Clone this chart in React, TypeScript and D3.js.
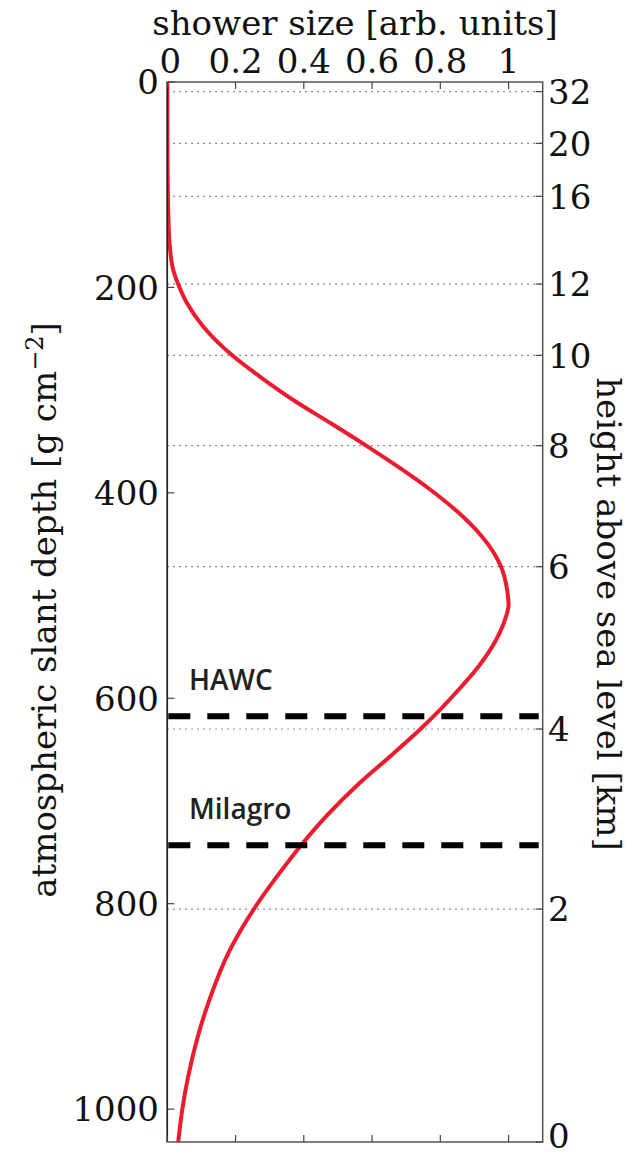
import React from "react";
import * as d3 from "d3";

// ---- data ----
const depthPts = [0, 66, 115, 154, 183, 197, 215, 238, 266, 287, 313, 332, 353, 375, 397, 418, 441, 459, 472, 495, 509, 523, 544, 569, 590, 615, 629, 654, 682, 714, 743, 771, 803, 846, 892, 931, 970, 1000, 1032];
const sizePts = [0, 0.0005, 0.002, 0.006, 0.0175, 0.032, 0.057, 0.105, 0.19, 0.272, 0.385, 0.478, 0.578, 0.678, 0.771, 0.849, 0.918, 0.958, 0.978, 0.996, 1.0, 0.99, 0.962, 0.912, 0.858, 0.788, 0.745, 0.662, 0.565, 0.468, 0.392, 0.327, 0.258, 0.182, 0.125, 0.088, 0.06, 0.044, 0.032];
const sizeTicks = [0, 0.2, 0.4, 0.6, 0.8, 1];
const sizeTickLabels = ["0", "0.2", "0.4", "0.6", "0.8", "1"];
const depthTicks = [0, 200, 400, 600, 800, 1000];
const heightTickLabels = ["32", "20", "16", "12", "10", "8", "6", "4", "2", "0"];
const heightTickDepths = [9.4, 59.7, 111.3, 196.7, 266.1, 354.1, 471.9, 629.9, 805.2, 1032];
const detectorNames = ["HAWC", "Milagro"];
const detectorDepths = [617.5, 743.2];

const W = 632, H = 1156;
const L = 167.3, R = 542.7, T = 82, B = 1142;
const serif = "DejaVu Serif";
const FS = 34;

export default function App() {
  const x = d3.scaleLinear().domain([0, 1.1]).range([L, R]);
  const y = d3.scaleLinear().domain([0, 1032]).range([T, B]);
  const pts = depthPts.map((d, i) => [sizePts[i], d] as [number, number]);
  const line = d3.line<[number, number]>()
    .x((p) => x(p[0]))
    .y((p) => y(p[1]))
    .curve(d3.curveMonotoneY);

  return (
    <svg width={W} height={H} style={{ position: "absolute", left: 0, top: 0, background: "#fff" }}>
      <defs>
        <filter id="blur" x="-5%" y="-200%" width="110%" height="500%">
          <feGaussianBlur stdDeviation="2" />
        </filter>
        <clipPath id="plot">
          <rect x={L} y={T} width={R - L} height={B - T} />
        </clipPath>
      </defs>
      <rect x={0} y={0} width={W} height={H} fill="#fff" />
      {/* grid lines at height ticks */}
      {heightTickDepths.slice(0, -1).map((d, i) => (
        <line key={"g" + i} x1={L} x2={R} y1={y(d)} y2={y(d)} stroke="#666" strokeWidth={1.2} strokeDasharray="1.5,4.5" />
      ))}
      {/* curve */}
      <path d={line(pts) || ""} fill="none" stroke="#ec1c2e" strokeWidth={4} clipPath="url(#plot)" />
      {/* detector lines */}
      {detectorDepths.map((d, i) => (
        <g key={"det" + i}>
          <line x1={L + 1} x2={R - 4} y1={y(d)} y2={y(d)} stroke="#777" strokeWidth={9} strokeDasharray="22,17" filter="url(#blur)" opacity={0.7} />
          <line x1={L + 1} x2={R - 4} y1={y(d)} y2={y(d)} stroke="#000" strokeWidth={6} strokeDasharray="22,17" />
          <text x={189} y={y(d) - 26} fontFamily="Open Sans" fontSize={28} fontWeight={600} fill="#222">{detectorNames[i]}</text>
        </g>
      ))}
      {/* frame */}
      <rect x={L} y={T} width={R - L} height={B - T} fill="none" stroke="#555" strokeWidth={1.5} />
      <line x1={L} x2={L} y1={T} y2={B} stroke="#222" strokeWidth={1.5} />
      {/* top/bottom ticks */}
      {sizeTicks.map((t, i) => (
        <g key={"xt" + i}>
          <line x1={x(t)} x2={x(t)} y1={T} y2={T + 7} stroke="#444" strokeWidth={1.2} />
          <line x1={x(t)} x2={x(t)} y1={B} y2={B - 7} stroke="#444" strokeWidth={1.2} />
          <text x={x(t) + (t === 0 ? 3 : 0)} y={73} textAnchor="middle" fontFamily={serif} fontSize={FS} fill="#111">{sizeTickLabels[i]}</text>
        </g>
      ))}
      {/* left ticks */}
      {depthTicks.map((t, i) => (
        <g key={"yt" + i}>
          <line x1={L} x2={L + 7} y1={y(t)} y2={y(t)} stroke="#444" strokeWidth={1.2} />
          <text x={159} y={y(t)} dy="0.36em" textAnchor="end" fontFamily={serif} fontSize={FS} fill="#111">{t}</text>
        </g>
      ))}
      {/* right ticks */}
      {heightTickDepths.map((d, i) => (
        <g key={"rt" + i}>
          <line x1={R} x2={R - 7} y1={y(d)} y2={y(d)} stroke="#444" strokeWidth={1.2} />
          <text x={548} y={Math.min(y(d), 1136)} dy="0.36em" textAnchor="start" fontFamily={serif} fontSize={FS} fill="#111">{heightTickLabels[i]}</text>
        </g>
      ))}
      {/* titles */}
      <text x={(L + R) / 2} y={35} textAnchor="middle" fontFamily={serif} fontSize={FS} fill="#111">shower size [arb. units]</text>
      <text transform={`translate(56,${610}) rotate(-90)`} textAnchor="middle" fontFamily={serif} fontSize={FS} fill="#111">
        atmospheric slant depth [g cm<tspan dy={-13} fontSize={24}>−2</tspan><tspan dy={13}>]</tspan>
      </text>
      <text transform={`translate(597,${614}) rotate(90)`} textAnchor="middle" fontFamily={serif} fontSize={FS} fill="#111">height above sea level [km]</text>
    </svg>
  );
}
